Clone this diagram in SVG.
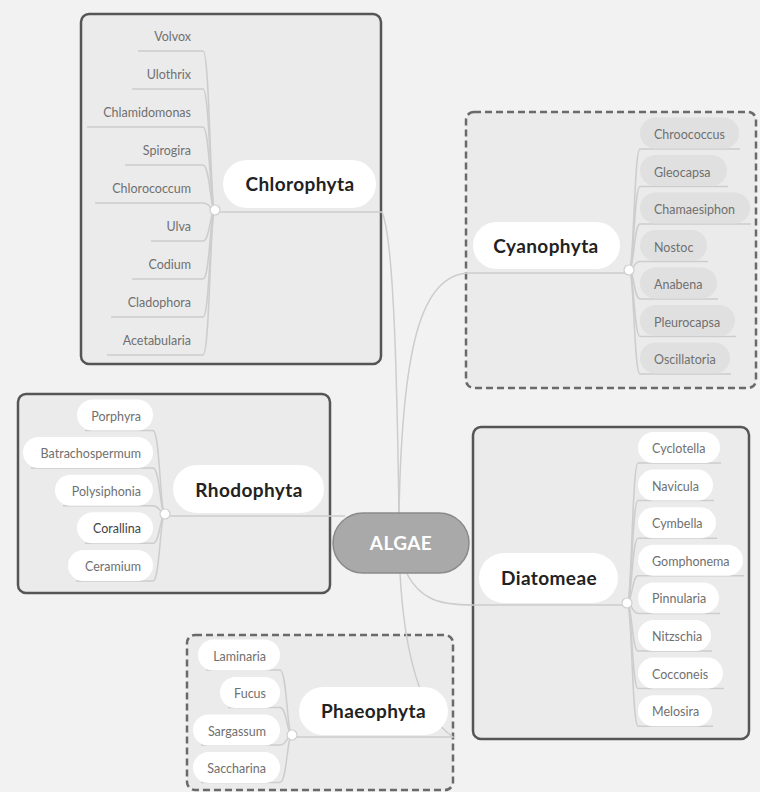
<svg xmlns="http://www.w3.org/2000/svg" width="760" height="792" viewBox="0 0 760 792">
<style>
.bg{fill:#f2f2f2}
.box{fill:#ebebeb;stroke:#555;stroke-width:2.5}
.dbox{fill:#ebebeb;stroke:#6a6a6a;stroke-width:2.5;stroke-dasharray:7 4}
.ln{fill:none;stroke:#cdcdcd;stroke-width:1.5}
.topic{fill:#fff}
.tt{font-family:Lato,"Open Sans","Liberation Sans",sans-serif;font-weight:bold;font-size:19px;letter-spacing:0.4px;fill:#222;text-anchor:middle}
.sub{font-family:Lato,"Open Sans","Liberation Sans",sans-serif;font-size:12.5px;fill:#707070}
.r{text-anchor:end}
.wp{fill:#fff}
.gp{fill:#e0e0e0}
.dot{fill:#fff;stroke:#cfcfcf;stroke-width:1.2}
</style>
<rect class="bg" x="0" y="0" width="760" height="792"/>
<g id="boundaries">
<rect class="box" x="81" y="14" width="300" height="350" rx="8"/>
<rect class="dbox" x="466" y="112" width="290" height="276" rx="8"/>
<rect class="box" x="18" y="394" width="312" height="199" rx="8"/>
<rect class="box" x="473" y="427" width="276" height="312" rx="8"/>
<rect class="dbox" x="187" y="635" width="266" height="155" rx="8"/>
</g>
<g id="connectors">
<path class="ln" d="M399 514 C397 380 394 240 382 212 L215 212"/>
<path class="ln" d="M399 514 C402 350 420 273 470 273 L629 273"/>
<path class="ln" d="M345 516 L165 516"/>
<path class="ln" d="M406 572 C420 600 440 605 473 605 L627 605"/>
<path class="ln" d="M400 573 C404 650 420 715 453 737 L292 737"/>
<path class="ln" d="M215 210 C210 210 210 51 203 51 L138 51"/>
<path class="ln" d="M215 210 C210 210 210 89 203 89 L132 89"/>
<path class="ln" d="M215 210 C210 210 210 127 203 127 L87 127"/>
<path class="ln" d="M215 210 C210 210 210 165 203 165 L125 165"/>
<path class="ln" d="M215 210 C210 210 210 203 203 203 L95 203"/>
<path class="ln" d="M215 210 C210 210 210 241 203 241 L151 241"/>
<path class="ln" d="M215 210 C210 210 210 279 203 279 L132 279"/>
<path class="ln" d="M215 210 C210 210 210 317 203 317 L111 317"/>
<path class="ln" d="M215 210 C210 210 210 355 203 355 L107 355"/>
<path class="ln" d="M629 270 C634 270 634 149 640 149 L740 149"/>
<path class="ln" d="M629 270 C634 270 634 186.5 640 186.5 L728 186.5"/>
<path class="ln" d="M629 270 C634 270 634 224 640 224 L751 224"/>
<path class="ln" d="M629 270 C634 270 634 261.5 640 261.5 L708 261.5"/>
<path class="ln" d="M629 270 C634 270 634 299 640 299 L718 299"/>
<path class="ln" d="M629 270 C634 270 634 336.5 640 336.5 L736 336.5"/>
<path class="ln" d="M629 270 C634 270 634 374 640 374 L731 374"/>
<path class="ln" d="M165 514 C160 514 160 430.5 153 430.5 L85 430.5"/>
<path class="ln" d="M165 514 C160 514 160 468 153 468 L31 468"/>
<path class="ln" d="M165 514 C160 514 160 505.7 153 505.7 L63 505.7"/>
<path class="ln" d="M165 514 C160 514 160 543.3 153 543.3 L85 543.3"/>
<path class="ln" d="M165 514 C160 514 160 581 153 581 L76 581"/>
<path class="ln" d="M627 603 C632 603 632 463 638 463 L721 463"/>
<path class="ln" d="M627 603 C632 603 632 500.6 638 500.6 L714 500.6"/>
<path class="ln" d="M627 603 C632 603 632 538.2 638 538.2 L717 538.2"/>
<path class="ln" d="M627 603 C632 603 632 575.8 638 575.8 L744 575.8"/>
<path class="ln" d="M627 603 C632 603 632 613.4 638 613.4 L720 613.4"/>
<path class="ln" d="M627 603 C632 603 632 651 638 651 L712 651"/>
<path class="ln" d="M627 603 C632 603 632 688.6 638 688.6 L724 688.6"/>
<path class="ln" d="M627 603 C632 603 632 726.2 638 726.2 L713 726.2"/>
<path class="ln" d="M292 735 C287 735 287 670 280 670 L206 670"/>
<path class="ln" d="M292 735 C287 735 287 707.5 280 707.5 L228 707.5"/>
<path class="ln" d="M292 735 C287 735 287 745 280 745 L201 745"/>
<path class="ln" d="M292 735 C287 735 287 782.5 280 782.5 L201 782.5"/>
</g>
<g id="algae">
<rect x="333" y="513" width="136" height="60" rx="30" fill="#a9a9a9" stroke="#8a8a8a" stroke-width="1.5"/>
<text x="401" y="550" class="tt" style="fill:#fff">ALGAE</text>
</g>
<g id="chlorophyta">
<rect class="topic" x="223" y="160" width="153" height="48" rx="24"/>
<text class="tt" x="300" y="191">Chlorophyta</text>
<circle class="dot" cx="215" cy="210" r="5"/>
<text class="sub r" x="191" y="41">Volvox</text>
<text class="sub r" x="191" y="79">Ulothrix</text>
<text class="sub r" x="191" y="117">Chlamidomonas</text>
<text class="sub r" x="191" y="155">Spirogira</text>
<text class="sub r" x="191" y="193">Chlorococcum</text>
<text class="sub r" x="191" y="231">Ulva</text>
<text class="sub r" x="191" y="269">Codium</text>
<text class="sub r" x="191" y="307">Cladophora</text>
<text class="sub r" x="191" y="345">Acetabularia</text>
</g>
<g id="cyanophyta">
<rect class="topic" x="473" y="222" width="147" height="47" rx="23.5"/>
<text class="tt" x="546" y="253">Cyanophyta</text>
<circle class="dot" cx="629" cy="270" r="5"/>
<rect class="gp" x="640" y="117.5" width="99" height="31" rx="15.5"/>
<text class="sub" x="654" y="139">Chroococcus</text>
<rect class="gp" x="640" y="155" width="87" height="31" rx="15.5"/>
<text class="sub" x="654" y="176.5">Gleocapsa</text>
<rect class="gp" x="640" y="192.5" width="110" height="31" rx="15.5"/>
<text class="sub" x="654" y="214">Chamaesiphon</text>
<rect class="gp" x="640" y="230" width="67" height="31" rx="15.5"/>
<text class="sub" x="654" y="251.5">Nostoc</text>
<rect class="gp" x="640" y="267.5" width="77" height="31" rx="15.5"/>
<text class="sub" x="654" y="289">Anabena</text>
<rect class="gp" x="640" y="305" width="95" height="31" rx="15.5"/>
<text class="sub" x="654" y="326.5">Pleurocapsa</text>
<rect class="gp" x="640" y="342.5" width="90" height="31" rx="15.5"/>
<text class="sub" x="654" y="364">Oscillatoria</text>
</g>
<g id="rhodophyta">
<rect class="topic" x="173" y="465" width="151" height="48" rx="24"/>
<text class="tt" x="249" y="497">Rhodophyta</text>
<circle class="dot" cx="165" cy="514" r="5"/>
<rect class="wp" x="77" y="399.5" width="76" height="31" rx="15.5"/>
<text class="sub r" x="141" y="420.5">Porphyra</text>
<rect class="wp" x="23" y="437" width="130" height="31" rx="15.5"/>
<text class="sub r" x="141" y="458">Batrachospermum</text>
<rect class="wp" x="55" y="474.7" width="98" height="31" rx="15.5"/>
<text class="sub r" x="141" y="495.7">Polysiphonia</text>
<rect class="wp" x="77" y="512.3" width="76" height="31" rx="15.5"/>
<text class="sub r" x="141" y="533.3" style="fill:#444">Corallina</text>
<rect class="wp" x="68" y="550" width="85" height="31" rx="15.5"/>
<text class="sub r" x="141" y="571">Ceramium</text>
</g>
<g id="diatomeae">
<rect class="topic" x="479" y="553" width="139" height="50" rx="25"/>
<text class="tt" x="549" y="585">Diatomeae</text>
<circle class="dot" cx="627" cy="603" r="5"/>
<rect class="wp" x="638" y="432" width="82" height="31" rx="15.5"/>
<text class="sub" x="652" y="453">Cyclotella</text>
<rect class="wp" x="638" y="469.6" width="75" height="31" rx="15.5"/>
<text class="sub" x="652" y="490.6">Navicula</text>
<rect class="wp" x="638" y="507.2" width="78" height="31" rx="15.5"/>
<text class="sub" x="652" y="528.2">Cymbella</text>
<rect class="wp" x="638" y="544.8" width="105" height="31" rx="15.5"/>
<text class="sub" x="652" y="565.8">Gomphonema</text>
<rect class="wp" x="638" y="582.4" width="81" height="31" rx="15.5"/>
<text class="sub" x="652" y="603.4">Pinnularia</text>
<rect class="wp" x="638" y="620" width="73" height="31" rx="15.5"/>
<text class="sub" x="652" y="641">Nitzschia</text>
<rect class="wp" x="638" y="657.6" width="85" height="31" rx="15.5"/>
<text class="sub" x="652" y="678.6">Cocconeis</text>
<rect class="wp" x="638" y="695.2" width="74" height="31" rx="15.5"/>
<text class="sub" x="652" y="716.2">Melosira</text>
</g>
<g id="phaeophyta">
<rect class="topic" x="299" y="687" width="149" height="48" rx="24"/>
<text class="tt" x="373.5" y="718">Phaeophyta</text>
<circle class="dot" cx="292" cy="735" r="5"/>
<rect class="wp" x="198" y="639.5" width="82" height="31" rx="15.5"/>
<text class="sub r" x="266" y="660.5">Laminaria</text>
<rect class="wp" x="220" y="677" width="60" height="31" rx="15.5"/>
<text class="sub r" x="266" y="698">Fucus</text>
<rect class="wp" x="193" y="714.5" width="87" height="31" rx="15.5"/>
<text class="sub r" x="266" y="735.5">Sargassum</text>
<rect class="wp" x="193" y="752" width="87" height="31" rx="15.5"/>
<text class="sub r" x="266" y="773">Saccharina</text>
</g>
</svg>
